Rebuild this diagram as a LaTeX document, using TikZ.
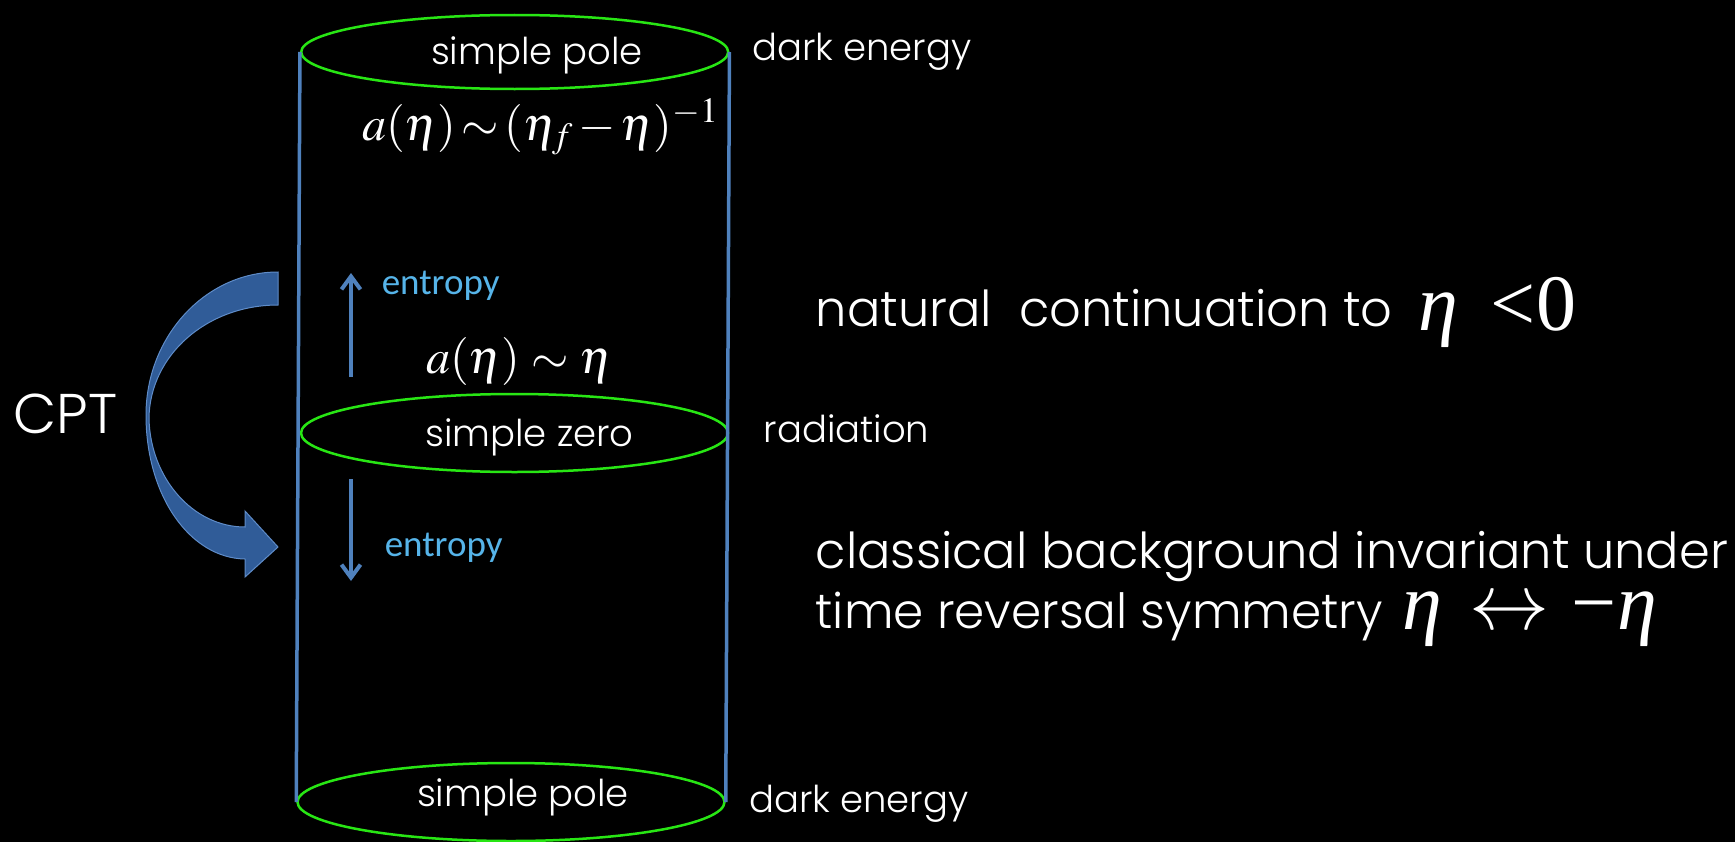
\documentclass[tikz,border=0pt]{standalone}
\usepackage{mathptmx}
\usepackage[no-math]{fontspec}
\setmainfont{Poppins Light}
\newfontfamily\calib{Carlito}
\newfontfamily\tms{Liberation Serif}
\newfontfamily\tmsi{Liberation Serif Italic}
\usetikzlibrary{arrows.meta,shapes.geometric}
\definecolor{steel}{RGB}{79,129,189}
\definecolor{grn}{RGB}{40,230,20}
\definecolor{entc}{RGB}{86,180,233}
\definecolor{cptdark}{RGB}{48,92,152}
\definecolor{cptlight}{RGB}{68,122,188}
\definecolor{cptedge}{RGB}{95,140,200}
\begin{document}
\begin{tikzpicture}[x=1bp,y=-1bp,
  lbl/.style={text=white, inner sep=0pt, font=\fontsize{37bp}{44bp}\selectfont},
  big/.style={text=white, inner sep=0pt, font=\fontsize{49.5bp}{58bp}\selectfont},
  ment/.style={text=white, inner sep=0pt, font=\fontsize{48bp}{58bp}\selectfont},
  mbig/.style={text=white, inner sep=0pt, font=\fontsize{80bp}{90bp}\selectfont},
  ent/.style={text=entc, inner sep=0pt, font=\calib\fontsize{37bp}{44bp}\selectfont},
  rim/.style={ellipse, draw=grn, line width=2.5bp, minimum width=427bp, minimum height=74bp, inner sep=0pt},
  side/.style={draw=steel, line width=3.5bp},
  entarrow/.style={draw=steel, line width=4bp, -{Straight Barb[length=13bp,width=19bp,line width=4bp]}},
  ]
\fill[black] (0,0) rectangle (1735,842);
\useasboundingbox (0,0) rectangle (1735,842);
% cylinder
\node[rim] (e1) at (514.7,52) {};
\node[rim, minimum height=78bp] (e2) at (514.5,433) {};
\node[rim, minimum height=78bp] (e3) at (511,802) {};
\draw[side] (e1.west) -- (e3.west);
\draw[side] (e1.east) -- (e3.east);
% labels
\node[lbl] (sp1) at (537,55) {simple pole};
\node[lbl, anchor=west] (de1) at (752,52) {dark energy};
\node[lbl] (sz) at (529.5,437) {simple zero};
\node[lbl, anchor=west] (rad) at (763.5,429) {radiation};
\node[lbl] (sp2) at (523,797) {simple pole};
\node[lbl, anchor=west] (de2) at (749,804) {dark energy};
% formulas
\node[ment, anchor=base west] (f1) at (362,140) {$a(\eta)\,{\sim}\,(\eta_f\,{-}\,\eta)^{-1}$};
\node[ment, anchor=base west] (f2) at (426,373) {$a(\eta)\mkern4mu{\sim}\mkern4mu\eta$};
% entropy
\node[ent, anchor=west] (en1) at (381.6,286) {entropy};
\node[ent, anchor=west] (en2) at (384.6,548) {entropy};
\coordinate (u0) at (351,377); \coordinate (u1) at (351,273);
\coordinate (d0) at (351,479); \coordinate (d1) at (351,581);
\draw[entarrow] (u0) -- (u1);
\draw[entarrow] (d0) -- (d1);
% CPT
\node[text=white, inner sep=0pt, font=\fontsize{56bp}{66bp}\selectfont] (cpt) at (65.6,414) {CPT};
\path[draw=cptedge, line width=1bp, top color=cptdark, middle color=cptlight, bottom color=cptdark]
  (278,272) .. controls (205,272) and (146,337) .. (146,415)
  .. controls (146,496) and (190,558) .. (245,559)
  -- (245,577) -- (278,547) -- (245,511) -- (245,527)
  .. controls (193,527) and (150,478) .. (149,418)
  .. controls (150,355) and (207,305) .. (278,305) -- cycle;
% right text
\node[big, anchor=base west] (nat) at (815.5,326) {natural\ \ continuation to};
\node[mbig, anchor=base west] (m1) at (1418,330) {{\tmsi η}\hspace{33bp}{\tms <}{\tms 0}};
\node[big, anchor=base west] (cl1) at (815.5,568) {classical background invariant under};
\node[big, anchor=base west, font=\fontsize{48.5bp}{58bp}\selectfont] (cl2) at (815.5,628) {time reversal symmetry};
\node[mbig, anchor=base west] (m2) at (1402,629) {{\tmsi η}\hspace{28bp}$\leftrightarrow$\hspace{22bp}{\tms −}\kern0bp{\tmsi η}};
\end{tikzpicture}
\end{document}
